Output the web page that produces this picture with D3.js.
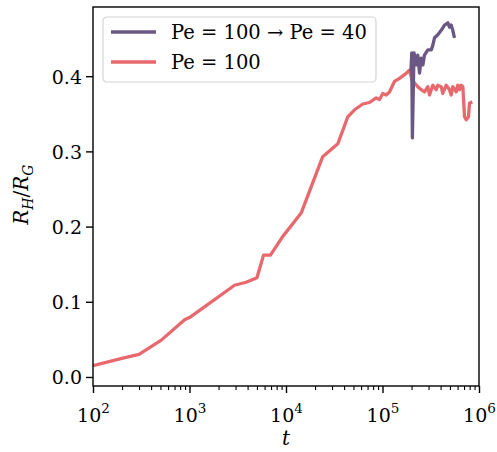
<!DOCTYPE html>
<html>
<head>
<meta charset="utf-8">
<script src="https://cdn.jsdelivr.net/npm/d3@7"></script>
<style>
  body { margin: 0; background: #fff; }
  svg text { font-family: "DejaVu Serif", serif; fill: #000; }
</style>
</head>
<body>
<div id="chart"></div>
<script>
'use strict';
// R_H / R_G against t, log time axis

// Pe = 100 run
const tPe100 = [100, 204, 300, 510, 890, 1000, 2930, 3860, 5000, 5850, 6900, 9270, 14360, 24000, 34400, 43700,
  51000, 62500, 73300, 86000, 93100, 100700, 109000, 118000, 133000, 150000, 169000, 183000, 190000, 204000,
  215000, 232000, 252000, 272000, 295000, 307000, 332000, 360000, 374000, 406000, 421000, 457000, 495000,
  515000, 535000, 580000, 603000, 628000, 654000, 680000, 708000, 737000, 778000, 797000, 851000];
const vPe100 = [0.015, 0.025, 0.030, 0.049, 0.076, 0.079, 0.122, 0.126, 0.132, 0.162, 0.162, 0.187, 0.218, 0.293, 0.310, 0.346,
  0.355, 0.363, 0.365, 0.371, 0.369, 0.377, 0.375, 0.379, 0.393, 0.397, 0.402, 0.406, 0.408, 0.393,
  0.391, 0.386, 0.382, 0.379, 0.386, 0.375, 0.388, 0.382, 0.388, 0.386, 0.377, 0.388, 0.382,
  0.375, 0.386, 0.379, 0.388, 0.382, 0.388, 0.386, 0.346, 0.342, 0.346, 0.364, 0.366];

// Pe = 100 -> Pe = 40 run
const tPe40 = [197000, 201000, 204000, 212000, 223000, 232000, 242000, 252000, 262000, 272000, 295000, 320000,
  332000, 346000, 374000, 406000, 439000, 476000, 495000, 515000, 535000, 557000];
const vPe40 = [0.406, 0.431, 0.318, 0.431, 0.415, 0.428, 0.404, 0.424, 0.415, 0.428, 0.435, 0.435,
  0.441, 0.451, 0.455, 0.461, 0.468, 0.471, 0.465, 0.468, 0.461, 0.451];

const xTicks = [1e2, 1e3, 1e4, 1e5, 1e6];
const xExponents = ['2', '3', '4', '5', '6'];
const yTicks = [0, 0.1, 0.2, 0.3, 0.4];
const seriesNames = ['Pe = 100 \u2192 Pe = 40', 'Pe = 100'];
const seriesColors = ['#6a5783', '#e8696d'];

const width = 497, height = 452;
const margin = {top: 7, right: 18, bottom: 66, left: 93};
const innerW = width - margin.left - margin.right;
const innerH = height - margin.top - margin.bottom;

const svg = d3.select('#chart').append('svg')
  .attr('width', width)
  .attr('height', height);

const g = svg.append('g')
  .attr('transform', `translate(${margin.left},${margin.top})`);

const x = d3.scaleLog()
  .domain([1e2, 1e6])
  .range([0, innerW]);

const y = d3.scaleLinear()
  .domain([-0.012, 0.492])
  .range([innerH, 0]);

// minor ticks on x
let minor = [];
for (let e = 2; e < 6; e++) {
  for (let m = 2; m < 10; m++) minor.push(m * Math.pow(10, e));
}

g.append('g')
  .attr('transform', `translate(0,${innerH})`)
  .call(d3.axisBottom(x).tickValues(minor).tickSize(4).tickFormat(''))
  .call(a => a.select('.domain').remove())
  .call(a => a.selectAll('line').attr('stroke-width', 1.1));

const xAxis = g.append('g')
  .attr('transform', `translate(0,${innerH})`)
  .call(d3.axisBottom(x).tickValues(xTicks).tickSize(7).tickFormat(''));
xAxis.select('.domain').remove();
xAxis.selectAll('line').attr('stroke-width', 1.4);

xAxis.selectAll('.tick').append('text')
  .attr('y', 36)
  .attr('text-anchor', 'middle')
  .style('font-size', '19px')
  .each(function(d, i) {
    const t = d3.select(this);
    t.append('tspan').text('10');
    t.append('tspan').attr('dy', -9).style('font-size', '13.5px').text(xExponents[i]);
  });

const yAxis = g.append('g')
  .call(d3.axisLeft(y).tickValues(yTicks).tickSize(7).tickFormat(d3.format('.1f')));
yAxis.select('.domain').remove();
yAxis.selectAll('line').attr('stroke-width', 1.4);
yAxis.selectAll('text')
  .attr('x', -11)
  .attr('dy', '0.36em')
  .style('font-size', '19px')
  .attr('font-family', null);

const line = d3.line()
  .x(d => x(d[0]))
  .y(d => y(d[1]));

const clip = g.append('clipPath').attr('id', 'clip')
  .append('rect').attr('width', innerW).attr('height', innerH);

g.append('path')
  .datum(tPe100.map((t, i) => [t, vPe100[i]]))
  .attr('d', line)
  .attr('clip-path', 'url(#clip)')
  .attr('fill', 'none')
  .attr('stroke', seriesColors[1])
  .attr('stroke-width', 3.3)
  .attr('stroke-linejoin', 'round');

g.append('path')
  .datum(tPe40.map((t, i) => [t, vPe40[i]]))
  .attr('d', line)
  .attr('fill', 'none')
  .attr('stroke', seriesColors[0])
  .attr('stroke-width', 3.3)
  .attr('stroke-linejoin', 'round');

// frame
g.append('rect')
  .attr('width', innerW)
  .attr('height', innerH)
  .attr('fill', 'none')
  .attr('stroke', '#000')
  .attr('stroke-width', 1.4);

// legend
const legend = g.append('g').attr('transform', 'translate(10,10)');
legend.append('rect')
  .attr('width', 273)
  .attr('height', 65)
  .attr('rx', 4)
  .attr('fill', '#fff')
  .attr('fill-opacity', 0.8)
  .attr('stroke', '#d4d4d4')
  .attr('stroke-width', 1.2);

seriesNames.forEach((name, i) => {
  const row = legend.append('g').attr('transform', `translate(0,${15 + i * 30})`);
  row.append('line')
    .attr('x1', 8).attr('x2', 53)
    .attr('stroke', seriesColors[i])
    .attr('stroke-width', 3.3);
  row.append('text')
    .attr('x', 68)
    .attr('dy', '0.35em')
    .style('font-size', '19.5px')
    .text(name);
});

// axis labels
svg.append('text')
  .attr('x', margin.left + x(1e4))
  .attr('y', 445)
  .attr('text-anchor', 'middle')
  .style('font-size', '20px')
  .style('font-style', 'italic')
  .text('t');

const yl = svg.append('text')
  .attr('transform', `translate(28,${margin.top + y(0.2) - 32}) rotate(-90)`)
  .attr('text-anchor', 'middle')
  .style('font-size', '20px')
  .style('font-style', 'italic');
yl.append('tspan').text('R');
yl.append('tspan').attr('dy', 5).style('font-size', '14px').text('H');
yl.append('tspan').attr('dy', -5).style('font-style', 'normal').text('/');
yl.append('tspan').text('R');
yl.append('tspan').attr('dy', 5).style('font-size', '14px').text('G');
</script>
</body>
</html>
